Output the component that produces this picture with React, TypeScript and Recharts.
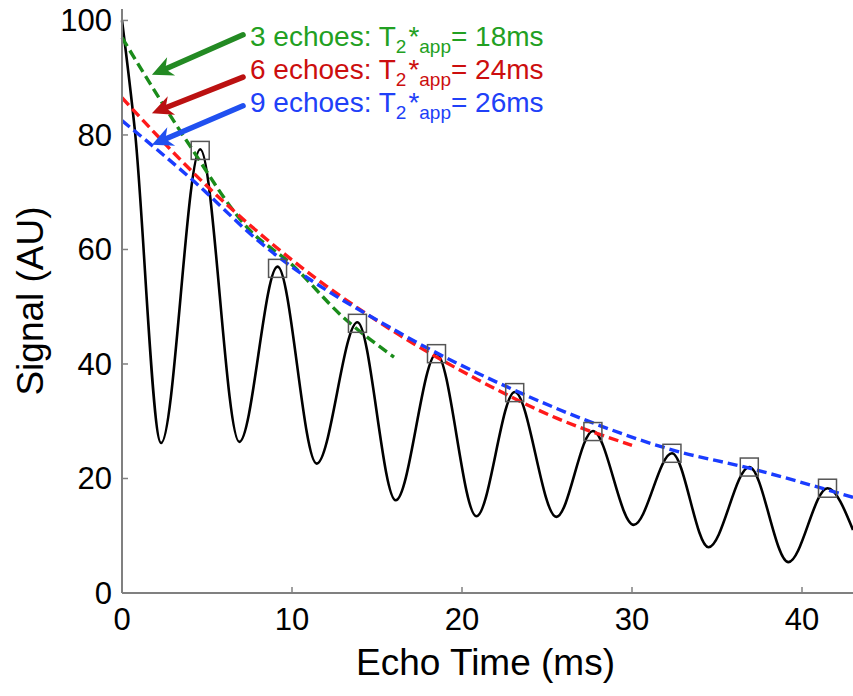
import {
  ComposedChart,
  Line,
  Scatter,
  XAxis,
  YAxis,
  ReferenceLine,
  ReferenceDot,
} from "recharts";

const FONT = "'Liberation Sans', Arial, Helvetica, sans-serif";

// measured signal (peaks and troughs of the oscillation)
const signalTime = [
  0, 0.75, 2.3, 4.6, 6.9, 9.15, 11.45, 13.85, 16.1, 18.5, 20.85, 23.1, 25.55,
  27.7, 30.1, 32.35, 34.5, 36.9, 39.2, 41.5, 43,
];
const signalValue = [
  100, 81, 26.2, 77.5, 26.4, 57, 22.6, 47.3, 16.2, 41.8, 13.4, 35.1, 13.3,
  28.3, 11.9, 24.4, 8.0, 22.0, 5.4, 18.3, 11,
];

// echo peaks (square markers)
const echoTime = [4.6, 9.15, 13.85, 18.5, 23.1, 27.7, 32.35, 36.9, 41.5];
const echoValue = [77.3, 56.7, 47.1, 41.8, 35.0, 28.2, 24.4, 22.0, 18.3];

// fitted decays
const fit3Time = [0, 3.8, 7.5, 9.9, 13, 16];
const fit3Value = [97, 79, 63.4, 57.6, 48.2, 41.2];
const fit6Time = [0, 5.2, 9.9, 16.35, 20.9, 25.6, 30];
const fit6Value = [86.5, 70.5, 58.4, 45, 37.3, 30.5, 25.8];
const fit9Time = [0, 4.2, 8.1, 16.35, 23.1, 27.7, 32.35, 36.9, 43];
const fit9Value = [82.5, 72, 61.3, 45.4, 35.4, 29.7, 25, 21.8, 16.7];

// annotations
const noteEchoes = ["3", "6", "9"];
const noteT2 = ["18", "24", "26"];
const noteX = 7.53;
const noteY = [95.5, 89.8, 84.0];
const arrowFrom = [
  { x: 7.12, y: 97.5 },
  { x: 7.12, y: 90.1 },
  { x: 7.12, y: 85.1 },
];
const arrowTo = [
  { x: 1.76, y: 90.5 },
  { x: 1.76, y: 83.8 },
  { x: 1.76, y: 78.3 },
];
const fitColors = ["#1a8c1a", "#ff1a1a", "#1a3cff"];
const arrowColors = ["#238a23", "#bb1111", "#2050f0"];
const textColors = ["#22a022", "#cc0e0e", "#2040f8"];

const toPoints = (xs: number[], ys: number[]) =>
  xs.map((x, i) => ({ x, y: ys[i] }));

const signal = toPoints(signalTime, signalValue);
const echoes = toPoints(echoTime, echoValue);
const fits = [
  toPoints(fit3Time, fit3Value),
  toPoints(fit6Time, fit6Value),
  toPoints(fit9Time, fit9Value),
];

const makeArrow = (color: string) => (props: any) => {
  const { x1, y1, x2, y2 } = props;
  const dx = x1 - x2;
  const dy = y1 - y2;
  const len = Math.sqrt(dx * dx + dy * dy) || 1;
  const ux = dx / len;
  const uy = dy / len;
  const px = -uy;
  const py = ux;
  const headLen = 21;
  const halfW = 10;
  const bx = x2 + ux * headLen;
  const by = y2 + uy * headLen;
  const nx = x2 + ux * headLen * 0.7;
  const ny = y2 + uy * headLen * 0.7;
  return (
    <g>
      <line
        x1={x1}
        y1={y1}
        x2={nx}
        y2={ny}
        stroke={color}
        strokeWidth={5.5}
        strokeLinecap="round"
      />
      <polygon
        points={`${x2},${y2} ${bx + px * halfW},${by + py * halfW} ${nx},${ny} ${bx - px * halfW},${by - py * halfW}`}
        fill={color}
      />
    </g>
  );
};

const makeNote = (i: number) => (props: any) => {
  const { cx, cy } = props;
  return (
    <text
      x={cx}
      y={cy}
      fill={textColors[i]}
      fontSize={28}
      fontFamily={FONT}
    >
      {`${noteEchoes[i]} echoes: T`}
      <tspan dy={7} fontSize={19}>
        2
      </tspan>
      <tspan dy={-7} dx={2}>
        *
      </tspan>
      <tspan dy={7} fontSize={19}>
        app
      </tspan>
      <tspan dy={-7}>{`= ${noteT2[i]}ms`}</tspan>
    </text>
  );
};

const squareShape = (props: any) => {
  const { cx, cy } = props;
  return (
    <rect
      x={cx - 9}
      y={cy - 9}
      width={18}
      height={18}
      fill="none"
      stroke="#555"
      strokeWidth={1.5}
    />
  );
};

const App = () => {
  return (
    <div style={{ position: "absolute", left: 0, top: 0, background: "#fff" }}>
      <ComposedChart
        width={853}
        height={696}
        margin={{ top: 9, right: 0, left: 62, bottom: 43 }}
      >
        <XAxis
          type="number"
          dataKey="x"
          domain={[0, 43]}
          ticks={[0, 10, 20, 30, 40]}
          height={60}
          axisLine={{ stroke: "#808080", strokeWidth: 2 }}
          tickLine={{ stroke: "#808080", strokeWidth: 1.5 }}
          tickSize={-6}
          tickMargin={21}
          tick={{ fill: "#000", fontSize: 31, fontFamily: FONT }}
          label={{
            content: (p: any) => {
              const vb = p.viewBox;
              return (
                <text
                  x={vb.x + vb.width / 2 - 2}
                  y={675}
                  textAnchor="middle"
                  fontSize={37}
                  fontFamily={FONT}
                  fill="#000"
                >
                  Echo Time (ms)
                </text>
              );
            },
          }}
        />
        <YAxis
          type="number"
          dataKey="y"
          domain={[0, 102]}
          ticks={[0, 20, 40, 60, 80, 100]}
          width={60}
          axisLine={{ stroke: "#808080", strokeWidth: 2 }}
          tickLine={{ stroke: "#808080", strokeWidth: 1.5 }}
          tickSize={-6}
          tickMargin={16}
          tick={{ fill: "#000", fontSize: 31, fontFamily: FONT }}
          label={{
            content: (p: any) => {
              const vb = p.viewBox;
              const cy = vb.y + vb.height / 2;
              return (
                <text
                  x={43}
                  y={cy}
                  transform={`rotate(-90 43 ${cy})`}
                  textAnchor="middle"
                  fontSize={37}
                  fontFamily={FONT}
                  fill="#000"
                >
                  Signal (AU)
                </text>
              );
            },
          }}
        />
        <Line
          data={signal}
          dataKey="y"
          type="monotone"
          stroke="#000"
          strokeWidth={2.6}
          dot={false}
          activeDot={false}
          isAnimationActive={false}
        />
        <Scatter
          data={echoes}
          dataKey="y"
          shape={squareShape}
          isAnimationActive={false}
        />
        {fits.map((pts, i) => (
          <Line
            key={i}
            data={pts}
            dataKey="y"
            type="monotone"
            stroke={fitColors[i]}
            strokeWidth={3.4}
            strokeDasharray="10 5"
            dot={false}
            activeDot={false}
            isAnimationActive={false}
          />
        ))}
        {arrowFrom.map((from, i) => (
          <ReferenceLine
            key={`a${i}`}
            segment={[from, arrowTo[i]]}
            shape={makeArrow(arrowColors[i])}
          />
        ))}
        {noteY.map((y, i) => (
          <ReferenceDot
            key={`n${i}`}
            x={noteX}
            y={y}
            r={0}
            shape={makeNote(i)}
          />
        ))}
      </ComposedChart>
    </div>
  );
};

export default App;
